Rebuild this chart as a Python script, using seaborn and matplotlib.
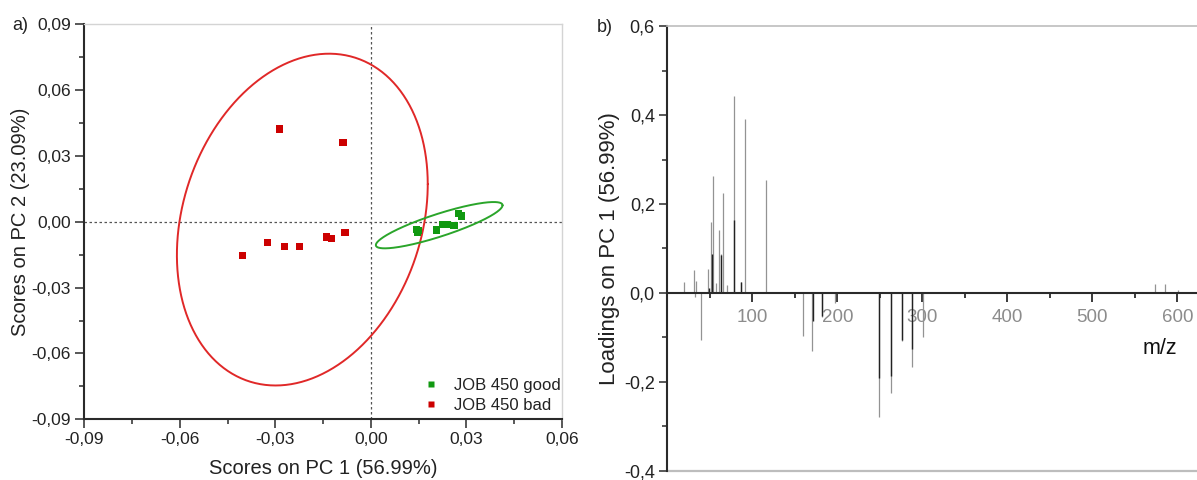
import numpy as np
import pandas as pd
import matplotlib
matplotlib.use("Agg")
import matplotlib.pyplot as plt
from matplotlib.ticker import MultipleLocator, FixedLocator, FuncFormatter
import seaborn as sns

# ---- scores (panel a) ----
good_pc1 = [0.0143, 0.0146, 0.0149, 0.0206, 0.0227, 0.0242, 0.0261, 0.0276, 0.0285]
good_pc2 = [-0.0034, -0.0049, -0.0040, -0.0037, -0.0011, -0.0011, -0.0017, 0.0037, 0.0027]
bad_pc1 = [-0.0286, -0.0087, -0.0402, -0.0324, -0.0270, -0.0223, -0.0139, -0.0124, -0.0081]
bad_pc2 = [0.0423, 0.0361, -0.0154, -0.0095, -0.0112, -0.0113, -0.0069, -0.0077, -0.0048]
groups = ["JOB 450 good", "JOB 450 bad"]

# confidence ellipses: centre x, centre y, sd x, sd y, covariance
good_ellipse = [0.0215, -0.00155, 0.0199, 0.01055, 0.0001804]
bad_ellipse = [-0.0215, 0.0010, 0.0394, 0.0756, 0.000635]

# ---- loadings (panel b) ----
mz_light = [19.6, 31.8, 32.0, 33.8, 39.3, 47.5, 51.4, 53.8, 57.3, 60.8, 63.5, 65.5, 69.9,
            78.1, 87.0, 91.8, 115.8, 160.0, 170.8, 182.2, 196.8, 249.3, 262.8, 276.0,
            287.4, 300.3, 573.5, 585.0, 600.5]
load_light = [0.024, 0.051, -0.010, 0.027, -0.105, 0.055, 0.159, 0.262, 0.022, 0.141, 0.088,
              0.225, 0.017, 0.442, 0.025, 0.392, 0.253, -0.096, -0.131, -0.055, -0.022,
              -0.278, -0.225, -0.108, -0.167, -0.098, 0.020, 0.020, 0.006]
mz_dark = [48.5, 52.6, 63.5, 78.1, 87.0, 171.0, 182.0, 249.3, 262.6, 276.0, 287.4]
load_dark = [0.012, 0.087, 0.085, 0.163, 0.025, -0.064, -0.052, -0.190, -0.186, -0.105, -0.125]

sns.set_theme(style="white")
plt.rcParams['font.family'] = ['Liberation Sans', 'DejaVu Sans']
plt.rcParams['axes.unicode_minus'] = False


def comma_fmt(nd):
    def f(v, pos):
        s = f"{v:.{nd}f}"
        if float(s) == 0:
            s = s.lstrip('-')
        return s.replace('.', ',')
    return FuncFormatter(f)


def ellipse_xy(p, n=300):
    cx, cy, sx, sy, sxy = p
    cov = np.array([[sx ** 2, sxy], [sxy, sy ** 2]])
    L = np.linalg.cholesky(cov)
    t = np.linspace(0, 2 * np.pi, n)
    pts = L @ np.vstack([np.cos(t), np.sin(t)])
    return pts[0] + cx, pts[1] + cy


fig = plt.figure(figsize=(11.97, 4.8), dpi=100)
ax1 = fig.add_axes([0.0704, 0.1265, 0.3989, 0.8229])
ax2 = fig.add_axes([0.5575, 0.0188, 0.4425, 0.9270])

dark = '#2a2a2a'
light_spine = '#d4d4d4'

# ---------------- panel a ----------------
df = pd.DataFrame({
    'pc1': good_pc1 + bad_pc1,
    'pc2': good_pc2 + bad_pc2,
    'group': [groups[0]] * len(good_pc1) + [groups[1]] * len(bad_pc1),
})
ax1.axhline(0, color='#555555', lw=0.9, ls=(0, (2, 2)), zorder=1)
ax1.axvline(0, color='#555555', lw=0.9, ls=(0, (2, 2)), zorder=1)
ex, ey = ellipse_xy(bad_ellipse)
ax1.plot(ex, ey, color='#e02828', lw=1.4, zorder=2)
ex, ey = ellipse_xy(good_ellipse)
ax1.plot(ex, ey, color='#2aa52a', lw=1.4, zorder=2)
sns.scatterplot(data=df, x='pc1', y='pc2', hue='group', ax=ax1, marker='s', s=28,
                palette={groups[0]: '#119911', groups[1]: '#cc0000'},
                edgecolor='none', zorder=3)

ax1.set_xlim(-0.09, 0.06)
ax1.set_ylim(-0.09, 0.09)
ax1.xaxis.set_major_locator(MultipleLocator(0.03))
ax1.xaxis.set_minor_locator(MultipleLocator(0.015))
ax1.yaxis.set_major_locator(MultipleLocator(0.03))
ax1.yaxis.set_minor_locator(MultipleLocator(0.015))
ax1.xaxis.set_major_formatter(comma_fmt(2))
ax1.yaxis.set_major_formatter(comma_fmt(2))
ax1.tick_params(which='major', direction='out', length=6.5, width=1.1, color=dark,
                labelsize=12.5, labelcolor='#222222', pad=3, bottom=True, left=True)
ax1.tick_params(which='minor', direction='out', length=3.6, width=1.1, color=dark,
                bottom=True, left=True)
for side in ['left', 'bottom']:
    ax1.spines[side].set_color(dark)
    ax1.spines[side].set_linewidth(1.5)
for side in ['top', 'right']:
    ax1.spines[side].set_color(light_spine)
    ax1.spines[side].set_linewidth(1.0)

ax1.set_xlabel('Scores on PC 1 (56.99%)', fontsize=14.5, color='#222222', va='center')
ax1.set_ylabel('Scores on PC 2 (23.09%)', fontsize=14.5, color='#222222', va='center')
ax1.xaxis.set_label_coords(0.5, -0.125)
ax1.yaxis.set_label_coords(-0.133, 0.5)

leg = ax1.legend(loc='center left', bbox_to_anchor=(0.692, 0.06), frameon=False,
                 fontsize=12, handlelength=1.0, handletextpad=0.85, borderpad=0,
                 labelspacing=0.3, markerscale=0.85)
for t in leg.get_texts():
    t.set_color('#222222')

# ---------------- panel b ----------------
ax2.vlines(mz_light, 0, load_light, color='#939393', lw=0.9, zorder=2)
ax2.vlines(mz_dark, 0, load_dark, color='#222222', lw=1.0, zorder=3)
ax2.set_xlim(0, 623.2)
ax2.set_ylim(-0.4, 0.6)
ax2.spines['bottom'].set_position(('data', 0))
ax2.spines['bottom'].set_color(dark)
ax2.spines['bottom'].set_linewidth(1.5)
ax2.spines['bottom'].set_zorder(4)
ax2.spines['left'].set_color(dark)
ax2.spines['left'].set_linewidth(1.5)
ax2.spines['top'].set_color('#bdbdbd')
ax2.spines['top'].set_linewidth(1.2)
ax2.spines['right'].set_visible(False)
ax2.axhline(-0.4, color='#bdbdbd', lw=1.6, clip_on=False)

ax2.xaxis.set_major_locator(FixedLocator([100, 200, 300, 400, 500, 600]))
ax2.xaxis.set_minor_locator(MultipleLocator(50))
ax2.yaxis.set_major_locator(MultipleLocator(0.2))
ax2.yaxis.set_minor_locator(MultipleLocator(0.1))
ax2.yaxis.set_major_formatter(comma_fmt(1))
ax2.tick_params(axis='x', which='major', direction='out', length=6.5, width=1.3,
                color=dark, labelsize=13.5, labelcolor='#8c8c8c', pad=5, bottom=True)
ax2.tick_params(axis='x', which='minor', direction='out', length=3.6, width=1.3,
                color=dark, bottom=True)
ax2.tick_params(axis='y', which='major', direction='out', length=6, width=1.1,
                color=dark, labelsize=13, labelcolor='#222222', pad=3, left=True)
ax2.tick_params(axis='y', which='minor', direction='out', length=3.6, width=1.1,
                color=dark, left=True)

ax2.set_ylabel('Loadings on PC 1 (56.99%)', fontsize=16, color='#222222', va='center')
ax2.yaxis.set_label_coords(-0.110, 0.5)
ax2.text(0.93, 0.275, 'm/z', transform=ax2.transAxes, fontsize=15.5,
         color='#111111', ha='center', va='center')

fig.text(12 / 1197, 1 - 26 / 480, 'a)', fontsize=13, color='#222222', va='center')
fig.text(597 / 1197, 1 - 27 / 480, 'b)', fontsize=13, color='#222222', va='center')

fig.savefig('out.png', dpi=100, facecolor='white')
